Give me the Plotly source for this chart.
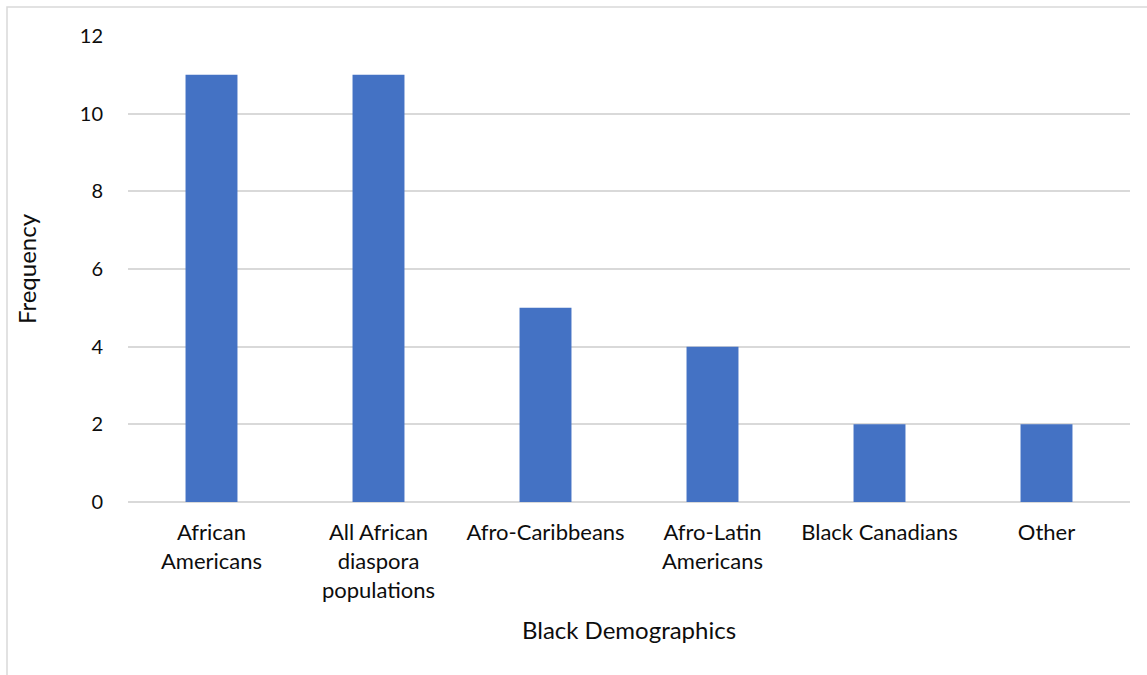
import plotly.graph_objects as go

categories = ["African<br>Americans", "All African<br>diaspora<br>populations", "Afro-Caribbeans",
              "Afro-Latin<br>Americans", "Black Canadians", "Other"]
frequency = [11, 11, 5, 4, 2, 2]
y_ticks = [0, 2, 4, 6, 8, 10, 12]

W, H = 1147, 675
L, R, T, B = 128, 17, 36, 173

fig = go.Figure(go.Bar(x=categories, y=frequency, marker=dict(color="#4472C4", line=dict(width=0))))

font = "Lato, Carlito, Calibri, sans-serif"
fig.update_layout(
    width=W, height=H,
    margin=dict(l=L, r=R, t=T, b=B, pad=0),
    paper_bgcolor="white", plot_bgcolor="white",
    bargap=0.689,
    showlegend=False,
    font=dict(family=font, size=20, color="#0d0d0d"),
    xaxis=dict(
        title=dict(text="Black Demographics", font=dict(size=24), standoff=20),
        tickfont=dict(size=22), showgrid=False, showline=False,
        ticks="outside", ticklen=11, tickcolor="rgba(0,0,0,0)",
        tickangle=0,
    ),
    yaxis=dict(
        title=dict(text="Frequency", font=dict(size=24), standoff=36),
        range=[0, 12], tickvals=y_ticks, tickfont=dict(size=20),
        showgrid=True, gridcolor="#d9d9d9", gridwidth=1.5,
        zeroline=True, zerolinecolor="#d9d9d9", zerolinewidth=1.5,
        showline=False, ticks="outside", ticklen=20, tickcolor="rgba(0,0,0,0)",
    ),
)

pw = W - L - R
ph = H - T - B
# light chart-area border (left/top visible, others beyond the window)
fig.add_shape(type="rect", xref="paper", yref="paper",
              x0=(7 - L) / pw, x1=(W + 5 - L) / pw,
              y0=-(H + 5 - T - ph) / ph, y1=(ph + T - 7) / ph,
              line=dict(color="#d9d9d9", width=1.5), fillcolor="rgba(0,0,0,0)", layer="below")

fig.write_html("out.html")
